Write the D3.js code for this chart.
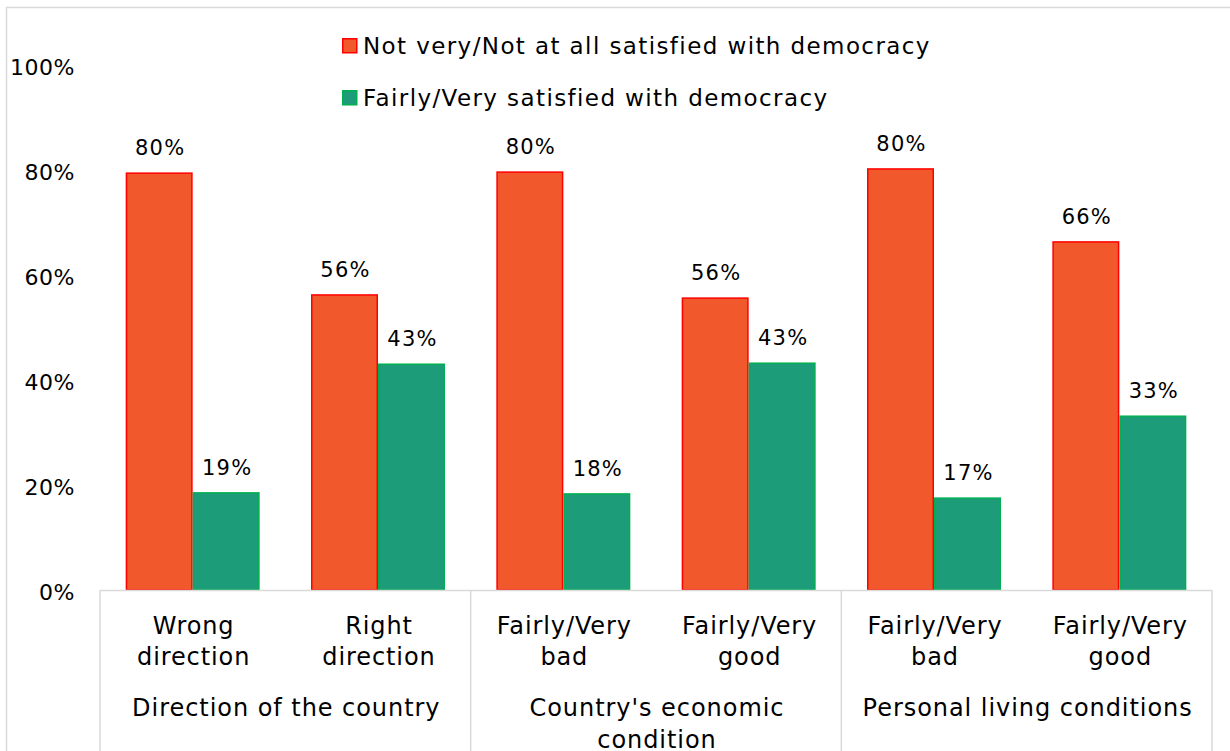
<!DOCTYPE html>
<html>
<head>
<meta charset="utf-8">
<script src="https://cdn.jsdelivr.net/npm/d3@7"></script>
<style>
  body { margin: 0; background: #fff; }
  svg { display: block; font-family: "DejaVu Sans", sans-serif; }
</style>
</head>
<body>
<svg id="chart" width="1230" height="751"></svg>
<script>
// categories, groups and series values
let categories = ["Wrong direction", "Right direction", "Fairly/Very bad", "Fairly/Very good", "Fairly/Very bad ", "Fairly/Very good "];
let catLines = [["Wrong", "direction"], ["Right", "direction"], ["Fairly/Very", "bad"], ["Fairly/Very", "good"], ["Fairly/Very", "bad"], ["Fairly/Very", "good"]];
let groups = [["Direction of the country"], ["Country's economic", "condition"], ["Personal living conditions"]];
let seriesNames = ["Not very/Not at all satisfied with democracy", "Fairly/Very satisfied with democracy"];
let notSatisfied = [0.794, 0.562, 0.796, 0.556, 0.802, 0.663];
let satisfied = [0.185, 0.430, 0.183, 0.432, 0.175, 0.331];
let notLabels = ["80%", "56%", "80%", "56%", "80%", "66%"];
let satLabels = ["19%", "43%", "18%", "43%", "17%", "33%"];
let yTicks = [0, 0.2, 0.4, 0.6, 0.8, 1];

let fills = ["#F1582B", "#1C9C78"];
let strokes = ["#FF0000", "#00B050"];

let svg = d3.select("#chart");

// outer chart border
svg.append("rect").attr("x", 6.5).attr("y", 7.5).attr("width", 1240).attr("height", 760)
    .attr("fill", "none").attr("stroke", "#D9D9D9").attr("stroke-width", 1.5);

let x0 = d3.scaleBand().domain(categories).range([100, 1212])
    .paddingInner(0.277).paddingOuter(0.1385);
let x1 = d3.scaleBand().domain([0, 1]).range([0, x0.bandwidth()]);
let y = d3.scaleLinear().domain([0, 1]).range([590, 65]);

// y tick labels
svg.append("g").selectAll("text")
    .data(yTicks).enter().append("text")
    .attr("x", 75).attr("y", d => y(d) + 2)
    .attr("dy", "0.35em")
    .attr("text-anchor", "end")
    .attr("font-size", 22)
    .attr("letter-spacing", 0.5)
    .attr("fill", "#000")
    .text(d3.format(".0%"));

// bars
let rows = categories.map((c, i) => ({
    cat: c,
    vals: [
        {s: 0, v: notSatisfied[i], lab: notLabels[i]},
        {s: 1, v: satisfied[i], lab: satLabels[i]}
    ]
}));

let catG = svg.append("g").selectAll("g")
    .data(rows).enter().append("g")
    .attr("transform", d => "translate(" + x0(d.cat) + ",0)");

catG.selectAll("rect")
    .data(d => d.vals).enter().append("rect")
    .attr("x", d => x1(d.s) + 0.75)
    .attr("y", d => y(d.v))
    .attr("width", x1.bandwidth() - 1.5)
    .attr("height", d => y(0) - y(d.v))
    .attr("fill", d => fills[d.s])
    .attr("stroke", d => strokes[d.s])
    .attr("stroke-width", 1.5);

catG.selectAll("text")
    .data(d => d.vals).enter().append("text")
    .attr("x", d => x1(d.s) + x1.bandwidth() / 2 + 1)
    .attr("y", d => y(d.v) - 18)
    .attr("text-anchor", "middle")
    .attr("font-size", 21)
    .attr("letter-spacing", 1.2)
    .attr("fill", "#000")
    .text(d => d.lab);

// category axis box
let axisG = svg.append("g").attr("stroke", "#D9D9D9").attr("stroke-width", 1.5);
axisG.append("line").attr("x1", 100).attr("x2", 1212).attr("y1", 590.5).attr("y2", 590.5);
let groupEdges = [100, x0(categories[2]) - x0.step() * x0.paddingInner() / 2,
    x0(categories[4]) - x0.step() * x0.paddingInner() / 2, 1212];
axisG.selectAll("line.v").data(groupEdges).enter().append("line")
    .attr("class", "v")
    .attr("x1", d => d).attr("x2", d => d)
    .attr("y1", 590).attr("y2", 751);

// category labels
svg.append("g").selectAll("text")
    .data(categories).enter().append("text")
    .attr("x", d => x0(d) + x0.bandwidth() / 2)
    .attr("y", 634)
    .attr("text-anchor", "middle")
    .attr("font-size", 24)
    .attr("letter-spacing", 0.9)
    .attr("fill", "#000")
    .each(function(d, i) {
        d3.select(this).selectAll("tspan")
            .data(catLines[i]).enter().append("tspan")
            .attr("x", x0(d) + x0.bandwidth() / 2 + 1)
            .attr("dy", (t, j) => j === 0 ? 0 : 31)
            .text(t => t);
    });

// group labels
svg.append("g").selectAll("text")
    .data(groups).enter().append("text")
    .attr("y", 716)
    .attr("text-anchor", "middle")
    .attr("font-size", 24)
    .attr("letter-spacing", 0.95)
    .attr("fill", "#000")
    .each(function(d, i) {
        let cx = (groupEdges[i] + groupEdges[i + 1]) / 2 + 1;
        d3.select(this).selectAll("tspan")
            .data(d).enter().append("tspan")
            .attr("x", cx)
            .attr("dy", (t, j) => j === 0 ? 0 : 32)
            .text(t => t);
    });

// legend
let legend = svg.append("g").selectAll("g")
    .data(seriesNames).enter().append("g")
    .attr("transform", (d, i) => "translate(342," + (38 + i * 52) + ")");
legend.append("rect")
    .attr("x", 0.75).attr("y", 0.75)
    .attr("width", 14).attr("height", 14)
    .attr("fill", (d, i) => fills[i])
    .attr("stroke", (d, i) => strokes[i])
    .attr("stroke-width", 1.5);
legend.append("text")
    .attr("x", 21).attr("y", 8)
    .attr("dy", "0.35em")
    .attr("font-size", 23)
    .attr("letter-spacing", 1.4)
    .attr("fill", "#000")
    .text(d => d);
</script>
</body>
</html>
